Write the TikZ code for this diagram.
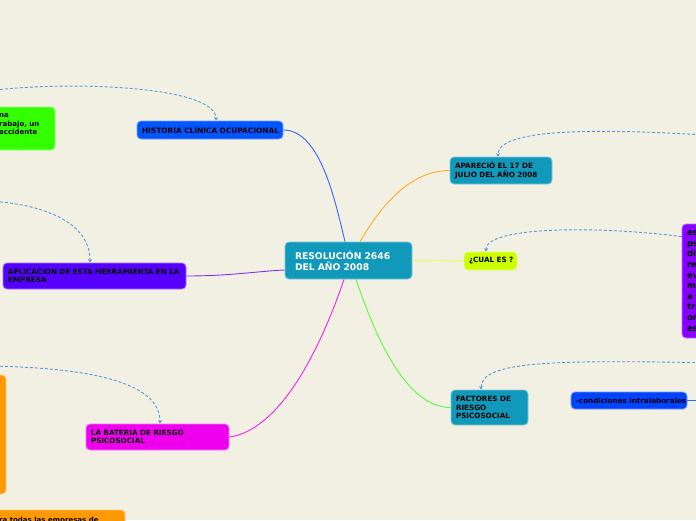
\documentclass[tikz,border=0pt]{standalone}
\usepackage{fontspec}
\setmainfont{DejaVu Sans}
\usetikzlibrary{arrows.meta,calc}
\definecolor{bg}{HTML}{F2F0E3}
\definecolor{cteal}{HTML}{1199BB}
\definecolor{cblue}{HTML}{0055FF}
\definecolor{cblue2}{HTML}{0044FF}
\definecolor{cyg}{HTML}{CCFF00}
\definecolor{cgreen}{HTML}{33FF00}
\definecolor{cpurple}{HTML}{8800FF}
\definecolor{cviolet}{HTML}{5500FF}
\definecolor{cmag}{HTML}{EE00EE}
\definecolor{corange}{HTML}{FF9900}
\definecolor{cdash}{HTML}{5599DD}
\definecolor{lblue}{HTML}{3366FF}
\definecolor{lorange}{HTML}{FFAA22}
\definecolor{lyg}{HTML}{DDFF55}
\definecolor{lgreen}{HTML}{55FF33}
\definecolor{lviolet}{HTML}{7733FF}
\definecolor{lmag}{HTML}{EE22EE}
\newcommand\nbx[1]{\mbox{#1}}
\begin{document}
\begin{tikzpicture}[x=1pt,y=-1pt,
  box/.style={rounded corners=4pt, draw=#1!55!white, fill=#1, line width=0.8pt,
    inner xsep=5pt, inner ysep=0pt, align=left, text=black,
    font=\bfseries\fontsize{7.2}{8.5}\selectfont},
  dashcon/.style={draw=cdash, line width=0.9pt, dash pattern=on 3pt off 2pt,
    -{Stealth[length=3.5pt,width=4pt]}},
  con/.style={line width=0.9pt}]
\fill[bg] (0,0) rectangle (696,520);
\useasboundingbox (0,0) rectangle (696,520);

% off-page boxes
\node[box=cgreen, minimum width=80, minimum height=43] (green) at (15,128.5) {};
\node[anchor=west, align=left, inner sep=0pt, font=\bfseries\fontsize{7}{8.5}\selectfont] (greentext) at (-1,124.5) {na\\rabajo, un\\accidente};
\node[box=corange, minimum width=50, minimum height=119] (orangeL) at (-19,434.5) {};
\node[box=corange, minimum width=170, minimum height=30] (orangeB) at (40,525) {};
\node[anchor=base west, inner sep=0pt, font=\bfseries\fontsize{7}{8.5}\selectfont] (orangeBtext) at (-1,522) {ra todas las empresas de};
\node[box=cpurple, minimum width=60, minimum height=114, text width=50,
  font=\bfseries\fontsize{8.5}{10.6}\selectfont] (purple) at (712,281) {es\\ps\\di\\re\\ev\\me\\a f\\tra\\or\\es};

% main nodes
\node[box=cteal, minimum width=127, minimum height=37, text width=107, inner xsep=10pt,
  text=white, font=\bfseries\fontsize{9.2}{11}\selectfont] (central) at (348.5,260.5) {\nbx{RESOLUCIÓN 2646}\\\nbx{DEL AÑO 2008}};
\node[box=cblue, minimum width=146, minimum height=18, text width=136,
  font=\bfseries\fontsize{7.4}{8.5}\selectfont] (historia) at (210,130) {\nbx{HISTORIA CLÍNICA OCUPACIONAL}};
\node[box=cteal, minimum width=102, minimum height=27, text width=92] (aparecio) at (501,170.5) {\nbx{APARECIÓ EL 17 DE}\\\nbx{JULIO DEL AÑO 2008}};
\node[box=cyg, minimum width=53, minimum height=18, text width=43] (cual) at (490.5,261) {\nbx{¿CUAL ES ?}};
\node[box=cteal, minimum width=77, minimum height=35, text width=67] (factores) at (489.5,407.5) {\nbx{FACTORES DE}\\\nbx{RIESGO}\\\nbx{PSICOSOCIAL}};
\node[box=cblue2, minimum width=116, minimum height=17, text width=106] (condic) at (629,400.5) {\nbx{-condiciones intralaborales}};
\node[box=cviolet, minimum width=183, minimum height=26, text width=173] (aplic) at (94.5,276) {\nbx{APLICACION DE ESTA HERRAMIENTA EN LA}\\\nbx{EMPRESA}};
\node[box=cmag, minimum width=143, minimum height=26, text width=133] (bateria) at (157.5,437) {\nbx{LA BATERIA DE RIESGO}\\\nbx{PSICOSOCIAL}};

% free ends
\coordinate (hstart) at (-20,92);
\coordinate (astart) at (720,136);
\coordinate (fstart) at (720,363);
\coordinate (plstart) at (-10,201);
\coordinate (bstart) at (-10,366);
\coordinate (cend) at (710,400.5);

% solid connectors
\draw[con, lblue] (historia.east) .. controls (320,130) and (335,200) .. ($(central.north)+(-3.5,0)$);
\draw[con, lorange] ($(central.north)+(11.5,0)$) .. controls (390,190) and (420,170.5) .. (aparecio.west);
\draw[con, lyg] (central.east) -- (cual.west);
\draw[con, lgreen] ($(central.south)+(7.5,0)$) .. controls (380,350) and (410,407.5) .. (factores.west);
\draw[con, lviolet] (aplic.east) .. controls (230,276) and (260,271) .. ($(central.west)+(0,9.5)$);
\draw[con, lmag] (bateria.east) .. controls (280,430) and (320,350) .. ($(central.south)+(-4.5,0)$);
\draw[con, lblue] (condic.east) -- (cend);

% dashed connectors
\draw[dashcon] (hstart) .. controls (60,80) and (216,85) .. ($(historia.north)+(6,0)$);
\draw[dashcon] (astart) .. controls (600,128) and (498,128) .. ($(aparecio.north)+(-3,0)$);
\draw[dashcon] ($(purple.north west)+(0,13)$) .. controls (600,226) and (486,226) .. ($(cual.north)+(-4.5,0)$);
\draw[dashcon] (fstart) .. controls (560,360) and (481,360) .. ($(factores.north)+(-8.5,0)$);
\draw[dashcon] (plstart) .. controls (50,205) and (90,225) .. ($(aplic.north)+(-4.5,0)$);
\draw[dashcon] (bstart) .. controls (100,368) and (160,385) .. ($(bateria.north)+(2.5,0)$);
\end{tikzpicture}
\end{document}
